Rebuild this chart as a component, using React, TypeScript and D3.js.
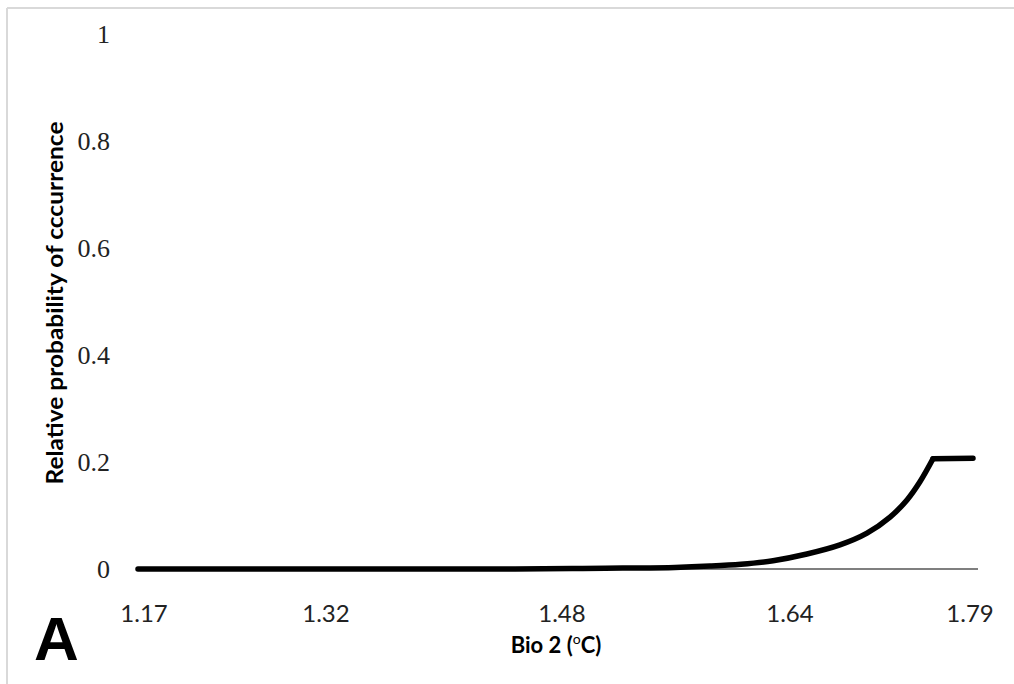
import React from "react";
import * as d3 from "d3";

// Bio 2 values (°C) and relative probability of occurrence
const bioValues = [1.17, 1.45, 1.5, 1.53, 1.5687, 1.5947, 1.6177, 1.6415, 1.6667, 1.6912, 1.7113, 1.7284, 1.741, 1.7506, 1.7603, 1.79];
const probValues = [0, 0, 0.001, 0.0018, 0.003, 0.0055, 0.009, 0.0155, 0.028, 0.045, 0.067, 0.097, 0.129, 0.163, 0.206, 0.207];

const xTickPositions = [1.1745, 1.3096, 1.4848, 1.6541, 1.7878];
const xTickLabels = ["1.17", "1.32", "1.48", "1.64", "1.79"];
const yTicks = [0, 0.2, 0.4, 0.6, 0.8, 1];
const yTickLabels = ["0", "0.2", "0.4", "0.6", "0.8", "1"];

const W = 1014;
const H = 684;

export default function App() {
  const x = d3.scaleLinear().domain([1.17, 1.79]).range([138, 973]);
  const y = d3.scaleLinear().domain([0, 1]).range([569, 34]);
  const pts = bioValues.map((b, i) => [b, probValues[i]] as [number, number]);
  const rising = pts.slice(0, pts.length - 1);
  const smooth = d3
    .line<[number, number]>()
    .x((d) => x(d[0]))
    .y((d) => y(d[1]))
    .curve(d3.curveCatmullRom.alpha(0.5));
  const straight = d3
    .line<[number, number]>()
    .x((d) => x(d[0]))
    .y((d) => y(d[1]));
  const plateau = pts.slice(pts.length - 2);

  return (
    <svg
      width={W}
      height={H}
      style={{ position: "absolute", left: 0, top: 0, background: "#fff" }}
    >
      <rect x={0} y={0} width={W} height={H} fill="#fff" />
      {/* frame */}
      <line x1={7} y1={8} x2={W} y2={8} stroke="#d9d9d9" strokeWidth={2} />
      <line x1={7} y1={8} x2={7} y2={H} stroke="#d9d9d9" strokeWidth={2} />

      {/* y tick labels */}
      {yTicks.map((t, i) => (
        <text
          key={t}
          x={110}
          y={y(t)}
          textAnchor="end"
          dominantBaseline="central"
          fontFamily="'Liberation Serif', 'DejaVu Serif', serif"
          fontSize={26}
          fill="#222"
        >
          {yTickLabels[i]}
        </text>
      ))}

      {/* x axis line */}
      <line x1={136} y1={y(0)} x2={978} y2={y(0)} stroke="#000" strokeWidth={1.2} />

      {/* x tick labels */}
      {xTickPositions.map((p, i) => (
        <text
          key={i}
          x={x(p)}
          y={622}
          textAnchor="middle"
          fontFamily="Lato, 'Open Sans', sans-serif"
          fontSize={24}
          fill="#222"
        >
          {xTickLabels[i]}
        </text>
      ))}

      {/* data line */}
      <path
        d={smooth(rising) || ""}
        fill="none"
        stroke="#000"
        strokeWidth={5.5}
        strokeLinecap="round"
        strokeLinejoin="round"
      />
      <path
        d={straight(plateau) || ""}
        fill="none"
        stroke="#000"
        strokeWidth={5.5}
        strokeLinecap="round"
        strokeLinejoin="round"
      />

      {/* axis titles */}
      <text
        transform={`translate(54,303) rotate(-90)`}
        textAnchor="middle"
        dominantBaseline="central"
        fontFamily="Lato, 'Open Sans', sans-serif"
        fontWeight="bold"
        fontSize={22}
        textLength={363}
        lengthAdjust="spacingAndGlyphs"
        fill="#000"
      >
        Relative probability of cccurrence
      </text>
      <text
        x={556}
        y={653}
        textAnchor="middle"
        fontFamily="Lato, 'Open Sans', sans-serif"
        fontWeight="bold"
        fontSize={22}
        fill="#000"
      >
        Bio 2 (
        <tspan fontWeight="normal" fontSize={14} dy={-9}>o</tspan>
        <tspan dy={9}>C)</tspan>
      </text>

      {/* panel letter */}
      <text
        x={34}
        y={660}
        fontFamily="'Liberation Sans', Arial, sans-serif"
        fontWeight="bold"
        fontSize={62}
        fill="#000"
      >
        A
      </text>
    </svg>
  );
}
